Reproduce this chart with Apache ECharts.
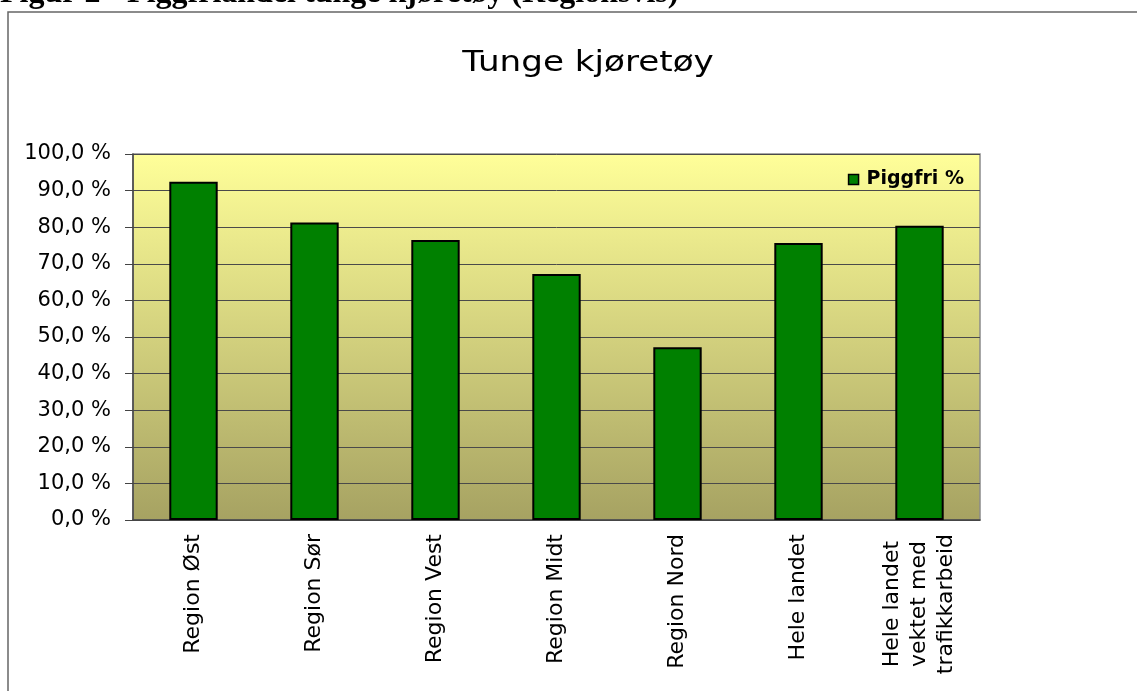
<!DOCTYPE html>
<html>
<head>
<meta charset="utf-8">
<script src="https://cdn.jsdelivr.net/npm/echarts@6/dist/echarts.min.js"></script>
<style>
  html, body { margin: 0; padding: 0; background: #fff; }
  #main { width: 1137px; height: 691px; }
</style>
</head>
<body>
<div id="main"></div>
<script>
var categories = ['Region Øst', 'Region Sør', 'Region Vest', 'Region Midt', 'Region Nord', 'Hele landet', 'Hele landet\nvektet med\ntrafikkarbeid'];
var piggfri = [92.4, 81.3, 76.5, 67.2, 47.2, 75.7, 80.4];
var seriesName = 'Piggfri %';
var chartTitle = 'Tunge kjøretøy';
var heading = 'Figur 2 - Piggfriandel tunge kjøretøy (Regionsvis)';

var fmtPct = function (v) {
    return v.toFixed(1).replace('.', ',') + ' %';
};

var catLabel = function (v) {
    if (v.indexOf('\n') < 0) return v;
    return v.split('\n').map(function (s) { return '{c|' + s + '}'; }).join('\n');
};

var mainEchart = echarts.init(document.getElementById('main'));
mainEchart.setOption({
    animation: false,
    backgroundColor: '#fff',
    graphic: [
        {
            type: 'rect', silent: true, z: -1,
            shape: { x: 8, y: 12, width: 1140, height: 690 },
            style: { fill: 'none', stroke: '#666', lineWidth: 1.5 }
        },
        {
            type: 'text', x: 0, y: -6,
            style: {
                text: heading, fill: '#000',
                font: 'bold 32px "Liberation Serif"',
                align: 'left', verticalAlign: 'middle'
            }
        },
        {
            type: 'text', x: 588, y: 64, scaleX: 1.22,
            style: {
                text: chartTitle, fill: '#000',
                font: '28px "DejaVu Sans"',
                align: 'center', verticalAlign: 'middle'
            }
        }
    ],
    legend: {
        data: [seriesName],
        right: 168, top: 165,
        icon: 'rect', itemWidth: 10, itemHeight: 10,
        itemStyle: { borderColor: '#000', borderWidth: 1.5 },
        textStyle: { fontFamily: 'DejaVu Sans', fontWeight: 'bold', fontSize: 19, color: '#000', padding: [0, 0, 0, 3] }
    },
    grid: {
        left: 133, right: 157, top: 154, bottom: 171,
        show: true, borderColor: '#8a8a8a', borderWidth: 1.5,
        backgroundColor: {
            type: 'linear', x: 0, y: 0, x2: 0, y2: 1,
            colorStops: [
                { offset: 0, color: '#FFFF99' },
                { offset: 1, color: '#A6A262' }
            ]
        }
    },
    xAxis: {
        type: 'category',
        data: categories,
        axisLine: { lineStyle: { color: '#444', width: 1.5 } },
        axisTick: { length: 6, lineStyle: { color: '#444' } },
        axisLabel: {
            rotate: 90, interval: 0, margin: 14,
            fontFamily: 'DejaVu Sans', fontSize: 22, color: '#000',
            lineHeight: 27,
            formatter: catLabel,
            rich: { c: { align: 'center', fontFamily: 'DejaVu Sans', fontSize: 22, color: '#000', lineHeight: 27 } }
        }
    },
    yAxis: {
        type: 'value',
        min: 0, max: 100, interval: 10,
        axisLine: { show: true, lineStyle: { color: '#444', width: 1.5 } },
        axisTick: { show: true, length: 8, lineStyle: { color: '#444' } },
        splitLine: { lineStyle: { color: '#4a4a4a', width: 1 } },
        axisLabel: {
            margin: 22,
            fontFamily: 'DejaVu Sans', fontSize: 21, color: '#000',
            formatter: fmtPct
        }
    },
    series: [{
        name: seriesName,
        type: 'bar',
        data: piggfri,
        barWidth: '40%',
        itemStyle: { color: '#008000', borderColor: '#000', borderWidth: 2 }
    }]
});
</script>
</body>
</html>
